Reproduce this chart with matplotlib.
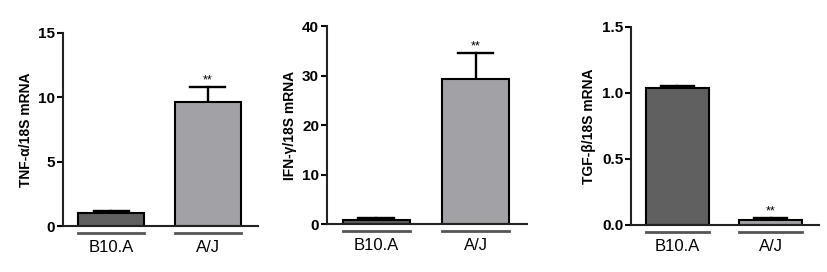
import numpy as np
import matplotlib
matplotlib.use("Agg")
import matplotlib.pyplot as plt
import matplotlib.transforms as mtransforms

plt.rcParams['font.family'] = ['Liberation Sans', 'DejaVu Sans']

groups = ['B10.A', 'A/J']
tnf_mean = [1.05, 9.6]
tnf_err = [0.1, 1.2]
ifn_mean = [0.85, 29.3]
ifn_err = [0.3, 5.2]
tgf_mean = [1.04, 0.04]
tgf_err = [0.015, 0.01]

ylabels = ['TNF-\u03b1/18S mRNA', 'IFN-\u03b3/18S mRNA', 'TGF-\u03b2/18S mRNA']
yticks = [[0, 5, 10, 15], [0, 10, 20, 30, 40], [0.0, 0.5, 1.0, 1.5]]
yticklabels = [['0', '5', '10', '15'], ['0', '10', '20', '30', '40'],
               ['0.0', '0.5', '1.0', '1.5']]
stars = [1, 1, 1]   # index of bar with significance mark

means = [tnf_mean, ifn_mean, tgf_mean]
errs = [tnf_err, ifn_err, tgf_err]
colors = ['#606060', '#a2a2a6']

fig = plt.figure(figsize=(8.28, 2.72), dpi=100)
positions = [
    [0.0761, 0.169, 0.2355, 0.710],
    [0.3946, 0.176, 0.2420, 0.728],
    [0.7620, 0.173, 0.2270, 0.728],
]

for i in range(3):
    ax = fig.add_axes(positions[i])
    x = np.arange(len(groups))
    m = means[i]
    e = errs[i]
    ax.bar(x, m, width=0.68, color=colors, edgecolor='black', linewidth=1.5, zorder=2)
    for j in range(len(x)):
        top = m[j] + e[j]
        ax.plot([x[j], x[j]], [m[j], top], color='black', lw=1.7, zorder=1)
        ax.plot([x[j] - 0.18, x[j] + 0.18], [top, top], color='black', lw=1.7, zorder=1)
    k = stars[i]
    ymax = yticks[i][-1]
    ax.text(x[k], m[k] + e[k] + ymax * 0.005, '**', ha='center', va='bottom', fontsize=9)

    ax.set_xlim(-0.5, 1.52)
    ax.set_ylim(0, ymax)
    ax.set_yticks(yticks[i])
    ax.set_yticklabels(yticklabels[i], fontweight='bold', fontsize=11)
    ax.set_ylabel(ylabels[i], fontweight='bold', fontsize=10, labelpad=4)
    ax.spines['top'].set_visible(False)
    ax.spines['right'].set_visible(False)
    ax.spines['left'].set_linewidth(1.5)
    ax.spines['bottom'].set_linewidth(1.5)
    ax.spines['left'].set_color('#222222')
    ax.spines['bottom'].set_color('#222222')
    ax.tick_params(axis='y', length=4, width=1.5, pad=1.5)
    ax.set_xticks(x)
    ax.set_xticklabels(groups, fontsize=12)
    ax.tick_params(axis='x', length=0, pad=10)

    trans = mtransforms.blended_transform_factory(ax.transData, ax.transAxes)
    for j in range(len(x)):
        ax.plot([x[j] - 0.34, x[j] + 0.34], [-0.037, -0.037], color='#555555', lw=2,
                transform=trans, clip_on=False)

fig.savefig('out.png', dpi=100)
